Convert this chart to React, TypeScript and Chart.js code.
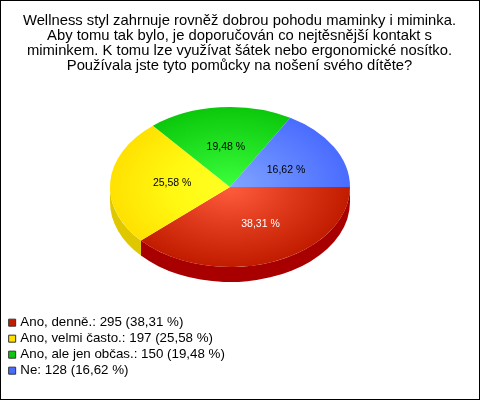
import React, { useEffect, useRef } from "react";
import { Chart, registerables } from "chart.js";

Chart.register(...registerables);

const titleLines = [
  "Wellness styl zahrnuje rovněž dobrou pohodu maminky i miminka.",
  "Aby tomu tak bylo, je doporučován co nejtěsnější kontakt s",
  "miminkem. K tomu lze využívat šátek nebo ergonomické nosítko.",
  "Používala jste tyto pomůcky na nošení svého dítěte?",
];
const categories = ["Ano, denně.", "Ano, velmi často.", "Ano, ale jen občas.", "Ne"];
const counts = [295, 197, 150, 128];
const percents = ["38,31", "25,58", "19,48", "16,62"];
const edgeColors = ["#c21c00", "#ffe100", "#0cc80c", "#4a6cff"];
const midColors = ["#e03a1c", "#fff812", "#22e424", "#6488ff"];
const centerColors = ["#ff5c3e", "#ffff24", "#3cff3c", "#82a6ff"];
const sideColors = ["#a80000", "#e0c800", "#0a9e0a", "#3a55cc"];
const labelColors = ["#ffffff", "#000000", "#000000", "#000000"];
const labelNudgeX = [9, 2, 1, 4];
const labelNudgeY = [0, -1, 0, 3];

const CX = 230, CY = 187, SQUASH = 80 / 120, DEPTH = 15;
const FONT = "'Liberation Sans', Arial, sans-serif";

const piePlugin = {
  id: "pie3d",
  afterLayout(chart: any) {
    chart.titleBlock.left -= 4.5;
    chart.titleBlock.right -= 4.5;
  },
  beforeDatasetsDraw(chart: any) {
    const arcs = chart.getDatasetMeta(0).data;
    const { ctx } = chart;
    const c = arcs[0];
    ctx.save();
    arcs.forEach((a: any, i: number) => {
      const from = Math.max(a.startAngle, 0);
      const to = Math.min(a.endAngle, Math.PI);
      if (to <= from) return;
      const r = a.outerRadius;
      ctx.beginPath();
      ctx.ellipse(CX, CY, r, r * SQUASH, 0, from, to);
      ctx.ellipse(CX, CY + DEPTH, r, r * SQUASH, 0, to, from, true);
      ctx.closePath();
      ctx.fillStyle = sideColors[i];
      ctx.fill();
    });
    ctx.restore();
    ctx.save();
    ctx.translate(CX, CY);
    ctx.scale(1, SQUASH);
    ctx.translate(-c.x, -c.y);
  },
  afterDatasetsDraw(chart: any) {
    const { ctx } = chart;
    ctx.restore();
    const arcs = chart.getDatasetMeta(0).data;
    ctx.save();
    ctx.font = `10.5px ${FONT}`;
    ctx.textAlign = "center";
    ctx.textBaseline = "middle";
    arcs.forEach((a: any, i: number) => {
      const mid = (a.startAngle + a.endAngle) / 2;
      const r = a.outerRadius * 0.5;
      ctx.fillStyle = labelColors[i];
      ctx.fillText(
        `${percents[i]} %`,
        CX + r * Math.cos(mid) + labelNudgeX[i],
        CY + r * SQUASH * Math.sin(mid) + labelNudgeY[i]
      );
    });
    ctx.restore();
  },
  afterDraw(chart: any) {
    const { ctx } = chart;
    ctx.save();
    ctx.strokeStyle = "#000000";
    ctx.lineWidth = 1;
    ctx.strokeRect(0.5, 0.5, chart.width - 1, chart.height - 1);
    ctx.restore();
  },
};

export default function App() {
  const ref = useRef<HTMLCanvasElement>(null);
  useEffect(() => {
    const chart = new Chart(ref.current!, {
      type: "pie",
      data: {
        labels: categories,
        datasets: [
          {
            data: counts,
            borderWidth: 0,
            backgroundColor: (c: any) => {
              const area = c.chart.chartArea;
              if (!area) return edgeColors[c.dataIndex];
              const x = (area.left + area.right) / 2;
              const y = (area.top + area.bottom) / 2;
              const g = c.chart.ctx.createRadialGradient(x, y, 0, x, y, 120);
              g.addColorStop(0, centerColors[c.dataIndex]);
              g.addColorStop(0.5, midColors[c.dataIndex]);
              g.addColorStop(1, edgeColors[c.dataIndex]);
              return g;
            },
          },
        ],
      },
      options: {
        responsive: false,
        animation: false,
        rotation: 90,
        radius: 120,
        layout: { padding: { left: 8, right: 0, top: 0, bottom: 20 } },
        plugins: {
          tooltip: { enabled: false },
          title: {
            display: true,
            text: titleLines,
            color: "#000000",
            font: { family: FONT, size: 14.8, weight: "normal", lineHeight: 15 / 14.8 },
            padding: { top: 13, bottom: 0 },
          },
          legend: {
            position: "left",
            align: "end",
            labels: {
              boxWidth: 3,
              boxHeight: 7,
              usePointStyle: true,
              color: "#000000",
              padding: 2.67,
              font: { family: FONT, size: 13.33 },
              generateLabels: () =>
                categories.map((name, i) => ({
                  text: `${name}: ${counts[i]} (${percents[i]} %)`,
                  fillStyle: edgeColors[i],
                  strokeStyle: "#333333",
                  pointStyle: "rect",
                  lineWidth: 1,
                  hidden: false,
                  index: i,
                })),
            },
          },
        },
      },
      plugins: [piePlugin],
    } as any);
    return () => chart.destroy();
  }, []);
  return (
    <div style={{ position: "fixed", left: 0, top: 0, width: 480, height: 400 }}>
      <canvas ref={ref} width={480} height={400} style={{ display: "block" }} />
    </div>
  );
}
